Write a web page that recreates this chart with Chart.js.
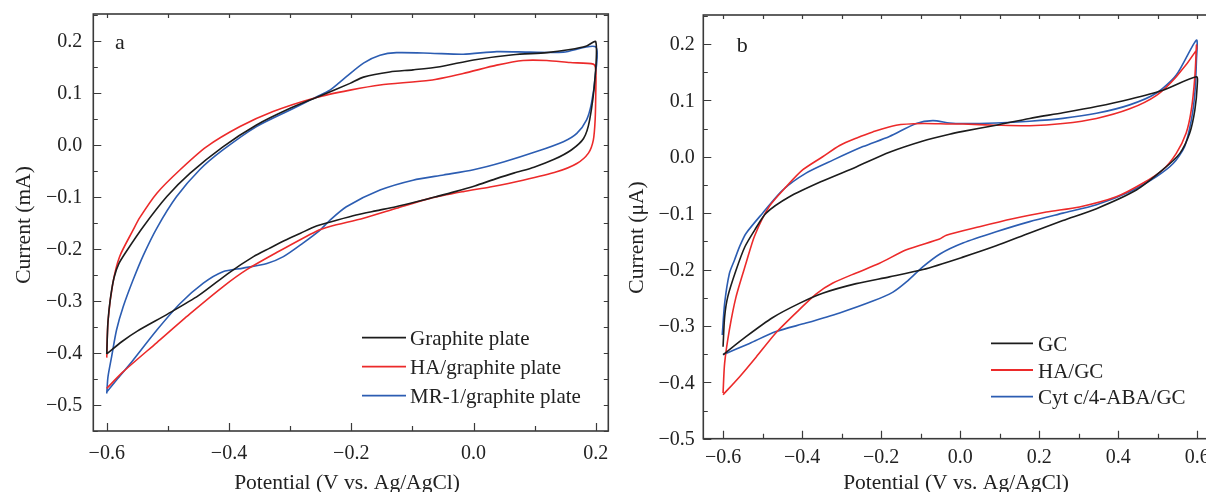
<!DOCTYPE html>
<html>
<head>
<meta charset="utf-8">
<script src="https://cdn.jsdelivr.net/npm/chart.js@4/dist/chart.umd.min.js"></script>
<style>
  html, body { margin:0; padding:0; background:#fff; overflow:hidden; width:1206px; height:492px; }
  canvas { position:absolute; top:0; }
  #ca { left:0; z-index:2; }
  #cb { left:600px; z-index:1; }
</style>
</head>
<body>
<canvas id="ca" width="620" height="492"></canvas>
<canvas id="cb" width="630" height="492"></canvas>
<script>
// ---------- tick labels ----------
const aXTicks = [-0.6, -0.4, -0.2, 0.0, 0.2];
const aXTickLabels = ['\u22120.6', '\u22120.4', '\u22120.2', '0.0', '0.2'];
const aYTicks = [0.2, 0.1, 0.0, -0.1, -0.2, -0.3, -0.4, -0.5];
const aYTickLabels = ['0.2', '0.1', '0.0', '\u22120.1', '\u22120.2', '\u22120.3', '\u22120.4', '\u22120.5'];
const bXTicks = [-0.6, -0.4, -0.2, 0.0, 0.2, 0.4, 0.6];
const bXTickLabels = ['\u22120.6', '\u22120.4', '\u22120.2', '0.0', '0.2', '0.4', '0.6'];
const bYTicks = [0.2, 0.1, 0.0, -0.1, -0.2, -0.3, -0.4, -0.5];
const bYTickLabels = ['0.2', '0.1', '0.0', '\u22120.1', '\u22120.2', '\u22120.3', '\u22120.4', '\u22120.5'];

// ---------- panel a: series (potential V, current mA) ----------
const aSeriesNames = ['Graphite plate', 'HA/graphite plate', 'MR-1/graphite plate'];
const aGraphiteV = [-0.600,-0.598,-0.594,-0.588,-0.580,-0.568,-0.540,-0.502,-0.464,-0.410,-0.355,-0.300,-0.257,-0.202,-0.180,-0.137,-0.099,-0.055,0.000,0.065,0.120,0.158,0.185,0.200,
                    0.199,0.190,0.180,0.160,0.132,0.099,0.067,0.035,0.002,-0.030,-0.062,-0.095,-0.127,-0.160,-0.192,-0.224,-0.257,-0.283,-0.309,-0.334,-0.360,-0.400,-0.450,-0.500,-0.550,-0.575,-0.600];
const aGraphiteI = [-0.402,-0.340,-0.295,-0.255,-0.228,-0.205,-0.157,-0.100,-0.055,-0.004,0.038,0.070,0.091,0.118,0.130,0.140,0.144,0.150,0.163,0.173,0.177,0.183,0.190,0.198,
                    0.131,0.048,0.012,-0.010,-0.028,-0.043,-0.054,-0.066,-0.079,-0.090,-0.100,-0.110,-0.119,-0.127,-0.135,-0.145,-0.156,-0.170,-0.184,-0.199,-0.215,-0.246,-0.290,-0.325,-0.358,-0.378,-0.402];
const aHAV = [-0.600,-0.598,-0.590,-0.579,-0.557,-0.546,-0.518,-0.480,-0.437,-0.382,-0.328,-0.257,-0.202,-0.153,-0.071,-0.017,0.038,0.081,0.120,0.158,0.196,
              0.200,0.200,0.199,0.196,0.188,0.169,0.136,0.081,0.027,-0.017,-0.071,-0.126,-0.180,-0.235,-0.257,-0.322,-0.371,-0.409,-0.464,-0.518,-0.573,-0.600];
const aHAI = [-0.409,-0.340,-0.266,-0.215,-0.164,-0.140,-0.093,-0.048,-0.004,0.035,0.064,0.091,0.105,0.115,0.124,0.137,0.153,0.162,0.162,0.158,0.155,
              0.144,0.099,0.048,0.009,-0.016,-0.036,-0.052,-0.068,-0.081,-0.090,-0.103,-0.122,-0.141,-0.157,-0.166,-0.207,-0.240,-0.272,-0.325,-0.380,-0.436,-0.468];
const aMR1V = [-0.600,-0.598,-0.592,-0.584,-0.573,-0.557,-0.540,-0.518,-0.486,-0.448,-0.410,-0.355,-0.300,-0.257,-0.235,-0.208,-0.180,-0.153,-0.126,-0.071,-0.017,0.038,0.092,0.147,0.200,
               0.199,0.193,0.185,0.169,0.147,0.103,0.049,0.000,-0.049,-0.099,-0.153,-0.208,-0.235,-0.251,-0.279,-0.311,-0.338,-0.377,-0.410,-0.442,-0.480,-0.518,-0.557,-0.584,-0.600];
const aMR1I = [-0.478,-0.446,-0.407,-0.356,-0.311,-0.260,-0.212,-0.160,-0.100,-0.048,-0.010,0.035,0.067,0.092,0.105,0.131,0.157,0.172,0.177,0.176,0.174,0.179,0.178,0.178,0.188,
               0.131,0.080,0.048,0.022,0.006,-0.013,-0.033,-0.048,-0.058,-0.068,-0.087,-0.119,-0.145,-0.164,-0.189,-0.215,-0.228,-0.237,-0.244,-0.266,-0.305,-0.356,-0.414,-0.452,-0.475];

// ---------- panel b: series (potential V, current µA) ----------
const bSeriesNames = ['GC', 'HA/GC', 'Cyt c/4-ABA/GC'];
const bGCV = [-0.600,-0.596,-0.588,-0.567,-0.545,-0.520,-0.491,-0.432,-0.348,-0.263,-0.179,-0.094,-0.027,0.007,0.091,0.176,0.260,0.345,0.429,0.513,0.598,
              0.600,0.594,0.581,0.556,0.513,0.446,0.345,0.260,0.176,0.091,0.007,-0.094,-0.179,-0.263,-0.348,-0.407,-0.474,-0.542,-0.600];
const bGCI = [-0.337,-0.284,-0.248,-0.201,-0.160,-0.130,-0.100,-0.071,-0.043,-0.018,0.008,0.028,0.040,0.045,0.056,0.068,0.078,0.089,0.102,0.118,0.142,
              0.127,0.083,0.042,0.006,-0.023,-0.059,-0.092,-0.113,-0.135,-0.158,-0.178,-0.200,-0.213,-0.225,-0.242,-0.260,-0.285,-0.319,-0.351];
const bHAV = [-0.600,-0.596,-0.584,-0.567,-0.542,-0.520,-0.483,-0.440,-0.398,-0.348,-0.305,-0.263,-0.221,-0.162,-0.094,-0.027,0.007,0.091,0.176,0.260,0.345,0.429,0.497,0.547,0.598,
              0.598,0.594,0.585,0.572,0.547,0.513,0.462,0.395,0.302,0.218,0.133,0.049,-0.035,-0.052,-0.136,-0.204,-0.263,-0.322,-0.364,-0.407,-0.466,-0.516,-0.558,-0.600];
const bHAI = [-0.419,-0.366,-0.307,-0.248,-0.189,-0.140,-0.088,-0.053,-0.023,0.000,0.020,0.033,0.044,0.056,0.059,0.058,0.058,0.056,0.055,0.059,0.068,0.085,0.109,0.142,0.189,
              0.198,0.142,0.083,0.042,0.006,-0.023,-0.047,-0.071,-0.089,-0.098,-0.110,-0.124,-0.139,-0.146,-0.165,-0.189,-0.206,-0.224,-0.243,-0.271,-0.312,-0.355,-0.390,-0.422];
const bCytV = [-0.602,-0.596,-0.584,-0.571,-0.558,-0.542,-0.500,-0.449,-0.390,-0.322,-0.246,-0.179,-0.111,-0.069,-0.027,0.007,0.091,0.176,0.260,0.345,0.429,0.497,0.547,0.598,
               0.598,0.594,0.585,0.568,0.539,0.497,0.429,0.345,0.260,0.176,0.091,0.007,-0.050,-0.094,-0.136,-0.170,-0.221,-0.305,-0.390,-0.466,-0.533,-0.600];
const bCytI = [-0.316,-0.260,-0.207,-0.183,-0.159,-0.136,-0.100,-0.059,-0.029,-0.006,0.018,0.036,0.059,0.064,0.060,0.059,0.060,0.063,0.068,0.077,0.092,0.113,0.145,0.207,
               0.172,0.113,0.065,0.018,-0.012,-0.035,-0.062,-0.085,-0.100,-0.115,-0.133,-0.153,-0.172,-0.195,-0.222,-0.240,-0.256,-0.277,-0.295,-0.310,-0.331,-0.351];

const COLORS = ['#1c1c1c', '#ec2a2a', '#2c5db2'];

function pts(V, I) { return V.map((v, i) => ({ x: v, y: I[i] })); }

const decor = {
  id: 'decor',
  afterDraw(chart, args, o) {
    const ctx = chart.ctx, ca = chart.chartArea;
    const xs = chart.scales.x, ys = chart.scales.y;
    ctx.save();
    // frame
    ctx.strokeStyle = '#3a3a3a';
    ctx.lineWidth = 1.6;
    ctx.strokeRect(ca.left, ca.top, ca.right - ca.left, ca.bottom - ca.top);
    ctx.lineWidth = 1.2;
    ctx.beginPath();
    const x0 = Math.ceil(xs.min * 10 - 1e-6), x1 = Math.floor(xs.max * 10 + 1e-6);
    for (let k = x0; k <= x1; k++) {
      const v = k / 10, px = Math.round(xs.getPixelForValue(v)) + 0.5;
      const major = o.xTicks.some(t => Math.abs(t - v) < 1e-6);
      const len = major ? 8 : 5;
      ctx.moveTo(px, ca.bottom); ctx.lineTo(px, ca.bottom - len);
      ctx.moveTo(px, ca.top); ctx.lineTo(px, ca.top + 4);
    }
    const y0 = Math.ceil(ys.min * 20 - 1e-6), y1 = Math.floor(ys.max * 20 + 1e-6);
    for (let k = y0; k <= y1; k++) {
      const v = k / 20, py = Math.round(ys.getPixelForValue(v)) + 0.5;
      const major = o.yTicks.some(t => Math.abs(t - v) < 1e-6);
      const len = major ? 8 : 4.5;
      ctx.moveTo(ca.left, py); ctx.lineTo(ca.left + len, py);
      ctx.moveTo(ca.right, py); ctx.lineTo(ca.right - 4.5, py);
    }
    ctx.stroke();

    // tick labels
    ctx.fillStyle = '#222';
    ctx.font = '20px "Liberation Serif"';
    ctx.textBaseline = 'alphabetic';
    ctx.textAlign = 'center';
    o.xTicks.forEach((v, i) => {
      ctx.fillText(o.xLabels[i], xs.getPixelForValue(v), ca.bottom + o.xLabelDy);
    });
    ctx.textAlign = 'right';
    o.yTicks.forEach((v, i) => {
      ctx.fillText(o.yLabels[i], ca.left - o.yLabelGap, ys.getPixelForValue(v) + 6.5);
    });

    // axis titles
    ctx.font = '21.5px "Liberation Serif"';
    ctx.textAlign = 'center';
    ctx.fillText(o.xTitle, o.xTitleX, o.xTitleY);
    ctx.save();
    ctx.translate(o.yTitleX, o.yTitleY);
    ctx.rotate(-Math.PI / 2);
    ctx.fillText(o.yTitle, 0, 0);
    ctx.restore();

    // panel letter
    ctx.font = '22px "Liberation Serif"';
    ctx.textAlign = 'left';
    ctx.fillText(o.letter, o.letterX, o.letterY);

    // legend
    ctx.font = '21px "Liberation Serif"';
    chart.data.datasets.forEach((ds, i) => {
      const ry = o.legY + i * o.legStep;
      ctx.strokeStyle = ds.borderColor;
      ctx.lineWidth = 1.8;
      ctx.beginPath();
      ctx.moveTo(o.legX0, ry); ctx.lineTo(o.legX1, ry);
      ctx.stroke();
      ctx.fillStyle = '#222';
      ctx.fillText(ds.label, o.legTextX, ry + 7.5);
    });
    ctx.restore();
  }
};

function makeChart(id, cfg) {
  const cv = document.getElementById(id);
  const W = cv.width, H = cv.height;
  return new Chart(cv, {
    type: 'scatter',
    data: {
      datasets: cfg.series.map((s, i) => ({
        label: s.name,
        data: pts(s.V, s.I),
        showLine: true,
        borderColor: COLORS[i],
        borderWidth: 1.6,
        pointRadius: 0,
        tension: 0.25,
        fill: false
      }))
    },
    options: {
      responsive: false,
      animation: false,
      devicePixelRatio: 1,
      layout: { padding: { top: cfg.area.top, right: W - cfg.area.right, left: 0, bottom: 0 } },
      scales: {
        x: {
          type: 'linear', min: cfg.xMin, max: cfg.xMax,
          ticks: { display: false }, grid: { display: false }, border: { display: false },
          afterFit(s) { s.height = H - cfg.area.bottom; }
        },
        y: {
          type: 'linear', min: cfg.yMin, max: cfg.yMax,
          ticks: { display: false }, grid: { display: false }, border: { display: false },
          afterFit(s) { s.width = cfg.area.left; }
        }
      },
      plugins: {
        legend: { display: false },
        tooltip: { enabled: false },
        decor: cfg.decor
      }
    },
    plugins: [decor]
  });
}

makeChart('ca', {
  area: { left: 93.3, right: 608.3, top: 14, bottom: 431 },
  xMin: -0.622, xMax: 0.2205, yMin: -0.55, yMax: 0.2513,
  series: [
    { name: aSeriesNames[0], V: aGraphiteV, I: aGraphiteI },
    { name: aSeriesNames[1], V: aHAV, I: aHAI },
    { name: aSeriesNames[2], V: aMR1V, I: aMR1I }
  ],
  decor: {
    xTicks: aXTicks, xLabels: aXTickLabels, yTicks: aYTicks, yLabels: aYTickLabels,
    xLabelDy: 28, yLabelGap: 11,
    xTitle: 'Potential (V vs. Ag/AgCl)', xTitleX: 347, xTitleY: 489,
    yTitle: 'Current (mA)', yTitleX: 30, yTitleY: 225,
    letter: 'a', letterX: 115, letterY: 48.5,
    legX0: 362, legX1: 406, legTextX: 410, legY: 337.7, legStep: 29
  }
});

makeChart('cb', {
  area: { left: 103.3, right: 617, top: 15, bottom: 438.7 },
  xMin: -0.65, xMax: 0.65, yMin: -0.5, yMax: 0.2514,
  series: [
    { name: bSeriesNames[0], V: bGCV, I: bGCI },
    { name: bSeriesNames[1], V: bHAV, I: bHAI },
    { name: bSeriesNames[2], V: bCytV, I: bCytI }
  ],
  decor: {
    xTicks: bXTicks, xLabels: bXTickLabels, yTicks: bYTicks, yLabels: bYTickLabels,
    xLabelDy: 24.5, yLabelGap: 8.5,
    xTitle: 'Potential (V vs. Ag/AgCl)', xTitleX: 356, xTitleY: 489,
    yTitle: 'Current (\u03bcA)', yTitleX: 43, yTitleY: 237.5,
    letter: 'b', letterX: 136.7, letterY: 51.7,
    legX0: 391, legX1: 433, legTextX: 438, legY: 343.3, legStep: 26.7
  }
});
</script>
</body>
</html>
